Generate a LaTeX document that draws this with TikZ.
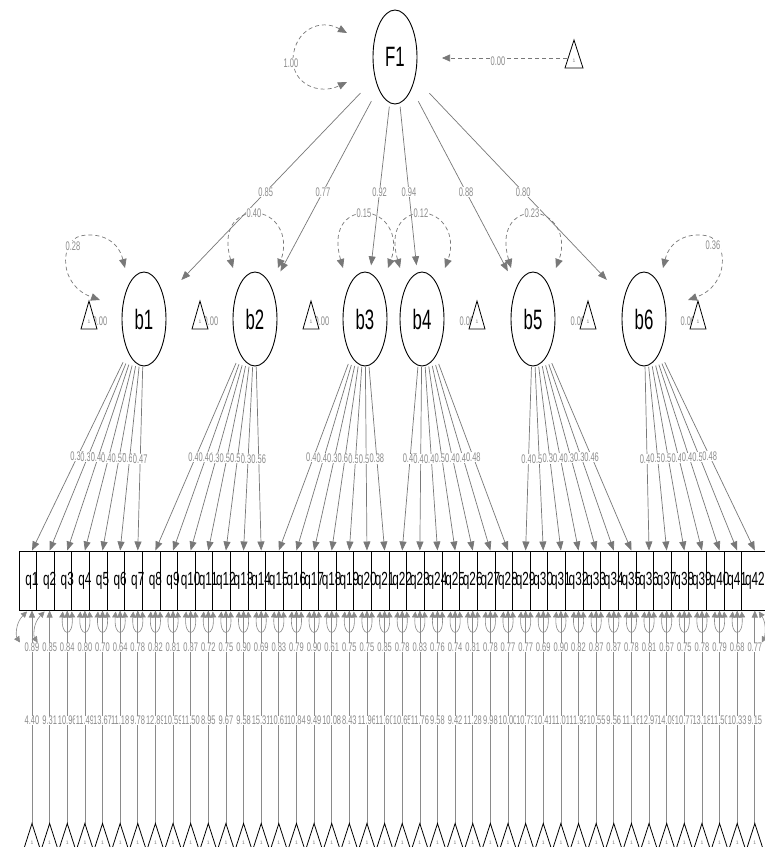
\documentclass[tikz,border=0pt]{standalone}
\usepackage{fontspec}
\setmainfont{Liberation Sans}
\usetikzlibrary{shapes.geometric,arrows.meta,calc}
\definecolor{labgray}{HTML}{8C8C8C}
\definecolor{edgegray}{HTML}{787878}
\definecolor{vgray}{HTML}{8A8A8A}
\newcommand\hs[1]{\scalebox{0.6}[1]{#1}}
\newcommand\hq[1]{\scalebox{0.62}[1]{#1}}
\begin{document}
\begin{tikzpicture}[x=1pt,y=-1pt,
  lat/.style={ellipse,draw=black,line width=0.9pt,fill=white,minimum width=44pt,minimum height=94pt,inner sep=0pt,font=\fontsize{28}{28}\selectfont},
  man/.style={rectangle,draw=black,line width=1pt,fill=white,minimum width=26pt,minimum height=59pt,inner sep=0pt},
  qlab/.style={font=\fontsize{19}{19}\selectfont,inner sep=0pt},
  elab/.style={fill=white,inner sep=0.5pt,text=labgray,font=\fontsize{12.5}{12.5}\selectfont},
  reg/.style={draw=edgegray,line width=0.7pt,-{Triangle[length=9pt,width=7pt]}},
  vreg/.style={draw=vgray,line width=0.7pt,-{Triangle[length=7pt,width=6pt]}},
  varloop/.style={draw=edgegray,line width=0.7pt,dash pattern=on 4pt off 3pt,{Triangle[length=9pt,width=7.5pt]}-{Triangle[length=9pt,width=7.5pt]}},
  resloop/.style={draw=vgray,line width=0.6pt,{Triangle[length=6pt,width=6pt]}-{Triangle[length=6pt,width=6pt]}},
  intc/.style={draw=edgegray,line width=0.7pt,dash pattern=on 4pt off 3pt,-{Triangle[length=8pt,width=7pt]}},
  trin/.style={draw=black,line width=0.8pt,fill=white},
  one/.style={font=\fontsize{5}{5}\selectfont,text=gray,inner sep=0pt}]
\useasboundingbox (0,0) rectangle (765,847);
\fill[white] (0,0) rectangle (765,847);

% ---------- nodes ----------
\node[lat] (F1) at (395,57) {\hs{F1}};
\foreach \n/\x in {1/144,2/255,3/365,4/422,5/533,6/644}
  \node[lat] (b\n) at (\x,319) {\hs{b\n}};
\foreach \i in {1,...,42} {
  \pgfmathsetmacro\cx{32+17.63*(\i-1)}
  \node[man] (q\i) at (\cx,580.5) {};
}
\foreach \i in {1,...,42} \node[qlab] at (q\i) {\hq{q\i}};

% ---------- F1 variance and intercept ----------
\draw[varloop] ($(F1)+(-48,-24)$) .. controls ($(F1)+(-75,-39)$) and ($(F1)+(-100,-27)$) .. ($(F1)+(-102,1)$)
   .. controls ($(F1)+(-103,28)$) and ($(F1)+(-75,38)$) .. ($(F1)+(-48,25)$);
\node[elab] at ($(F1)+(-104,6)$) {\hs{1.00}};
\coordinate (iF) at (574,40);
\draw[intc] ($(iF)+(-7,18)$) -- ($(F1)+(47,1)$);
\node[elab] at (498,61) {\hs{0.00}};
\draw[trin] (iF) -- ++(9,28) -- ++(-18,0) -- cycle;
\node[one] at ($(iF)+(0,21)$) {1};

% ---------- F1 -> b ----------
\foreach \n in {1,...,6}
  \draw[reg] ($(F1)!50pt!(b\n)$) -- ($(b\n)!54pt!(F1)$);

% ---------- b variances ----------
\draw[varloop] ($(b1)+(-19,-51)$) .. controls ($(b1)+(-26,-79)$) and ($(b1)+(-44,-87)$) .. ($(b1)+(-64,-83)$)
   .. controls ($(b1)+(-84,-77)$) and ($(b1)+(-86,-34)$) .. ($(b1)+(-44,-19)$);
\draw[varloop] ($(b6)+(19,-51)$) .. controls ($(b6)+(26,-79)$) and ($(b6)+(44,-87)$) .. ($(b6)+(64,-83)$)
   .. controls ($(b6)+(84,-77)$) and ($(b6)+(86,-34)$) .. ($(b6)+(44,-19)$);
\foreach \n in {2,...,5}
  \draw[varloop] ($(b\n)+(-22,-51)$) .. controls ($(b\n)+(-33,-89)$) and ($(b\n)+(-20,-106)$) .. ($(b\n)+(0,-106)$)
     .. controls ($(b\n)+(20,-106)$) and ($(b\n)+(35,-84)$) .. ($(b\n)+(23,-51)$);

% F1 -> b labels
\foreach \n/\v in {1/0.85,2/0.77,3/0.92,4/0.94,5/0.88,6/0.80}
  \node[elab] at ($(F1)!0.515!(b\n)$) {\hs{\v}};
\node[elab] at ($(b1)+(-71,-73)$) {\hs{0.28}};
\node[elab] at ($(b6)+(69,-74)$) {\hs{0.36}};
\foreach \n/\v in {2/0.40,3/0.15,4/0.12,5/0.23}
  \node[elab] at ($(b\n)+(-1,-106)$) {\hs{\v}};

% ---------- b intercept triangles ----------
\foreach \n/\t/\l in {1/-55/-44,2/-55/-44,3/-54/-43,4/55/45,5/55/45,6/54/44} {
  \coordinate (ib\n) at ($(b\n)+(\t,-18)$);
  \node[elab,fill=none] at ($(b\n)+(\l,2)$) {\hs{0.00}};
  \draw[trin] (ib\n) -- ++(8,28) -- ++(-16,0) -- cycle;
  \node[one] at ($(ib\n)+(0,21)$) {1};
}

% ---------- b -> q ----------
\foreach \i/\k in {1/1,2/1,3/1,4/1,5/1,6/1,7/1,8/2,9/2,10/2,11/2,12/2,13/2,14/2,
  15/3,16/3,17/3,18/3,19/3,20/3,21/3,22/4,23/4,24/4,25/4,26/4,27/4,28/4,
  29/5,30/5,31/5,32/5,33/5,34/5,35/5,36/6,37/6,38/6,39/6,40/6,41/6,42/6}
  \draw[reg] ($(b\k)!48pt!(q\i.north)$) -- (q\i.north);
\foreach \i/\k/\v in {1/1/0.33,2/1/0.39,3/1/0.40,4/1/0.45,5/1/0.55,6/1/0.60,7/1/0.47,
  8/2/0.42,9/2/0.44,10/2/0.36,11/2/0.53,12/2/0.50,13/2/0.32,14/2/0.56,
  15/3/0.41,16/3/0.46,17/3/0.32,18/3/0.62,19/3/0.50,20/3/0.50,21/3/0.38,
  22/4/0.47,23/4/0.42,24/4/0.49,25/4/0.50,26/4/0.44,27/4/0.47,28/4/0.48,
  29/5/0.48,30/5/0.56,31/5/0.32,32/5/0.42,33/5/0.36,34/5/0.36,35/5/0.46,
  36/6/0.43,37/6/0.57,38/6/0.50,39/6/0.47,40/6/0.46,41/6/0.57,42/6/0.48} {
  \coordinate (s) at ($(b\k)!48pt!(q\i.north)$);
  \node[elab] at ($(s)!0.5!(q\i.north)$) {\hs{\v}};
}

% ---------- q residuals and intercepts ----------
\foreach \i/\r/\m in {1/0.89/4.40,2/0.85/9.31,3/0.84/10.96,4/0.80/11.49,5/0.70/13.67,6/0.64/11.18,7/0.78/9.78,
  8/0.82/12.89,9/0.81/10.59,10/0.87/11.50,11/0.72/8.95,12/0.75/9.67,13/0.90/9.58,14/0.69/15.31,
  15/0.83/10.61,16/0.79/10.84,17/0.90/9.49,18/0.61/10.08,19/0.75/8.43,20/0.75/11.96,21/0.85/11.60,
  22/0.78/10.65,23/0.83/11.76,24/0.76/9.58,25/0.74/9.42,26/0.81/11.28,27/0.78/9.98,28/0.77/10.00,
  29/0.77/10.73,30/0.69/10.41,31/0.90/11.01,32/0.82/11.92,33/0.87/10.55,34/0.87/9.56,35/0.78/11.16,
  36/0.81/12.97,37/0.67/14.09,38/0.75/10.77,39/0.78/13.18,40/0.79/11.50,41/0.68/10.33,42/0.77/9.15} {
  \coordinate (t\i) at ($(q\i.south)+(0,213)$);
  \draw[vreg] (t\i) -- (q\i.south);
  \ifnum\i<3
    \draw[resloop] ($(q\i.south)+(-5,1)$) .. controls +(-12,12) and +(-4,-6) .. ($(q\i.south)+(-12,32)$);
  \else\ifnum\i=42
    \draw[resloop] ($(q\i.south)+(4,1)$) .. controls +(8,12) and +(3,-6) .. ($(q\i.south)+(7,32)$);
  \else
    \draw[resloop] ($(q\i.south)+(-4.5,1)$) .. controls +(-2,26) and +(2,26) .. ($(q\i.south)+(4.5,1)$);
  \fi\fi
  \node[elab] at ($(q\i.south)+(0,37)$) {\hs{\r}};
  \node[elab] at ($(q\i.south)+(0,110)$) {\hs{\m}};
  \draw[trin] (t\i) -- ++(9,28) -- ++(-18,0) -- cycle;
  \node[one] at ($(t\i)+(0,19)$) {1};
}
\end{tikzpicture}
\end{document}
